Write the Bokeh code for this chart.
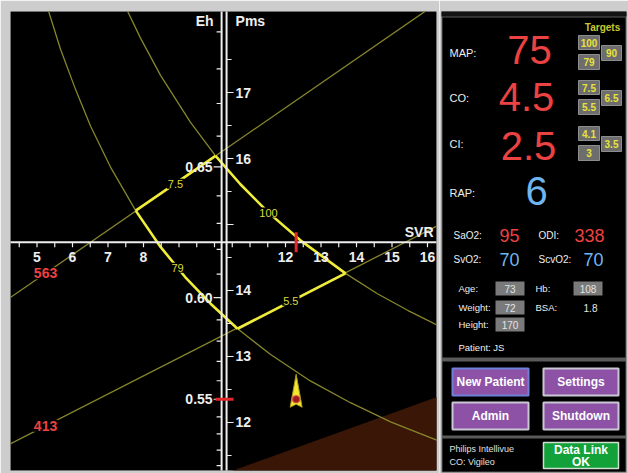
import numpy as np
from bokeh.plotting import figure
from bokeh.layouts import row
from bokeh.models import Range1d
from bokeh.embed import file_html
from bokeh.resources import INLINE
from bokeh.core.properties import value

FONT = value("Liberation Sans")

# ---------------- main diagram data (x = SVR, y = Pms) ----------------
svr_tick_labels = [5, 6, 7, 8, 12, 13, 14, 15, 16]
svr_minor_ticks = [4.5, 5.0, 5.5, 6.0, 6.5, 7.0, 7.5, 8.0, 8.5, 9.0, 9.5, 10.0,
                   10.5, 11.0, 11.5, 12.0, 12.5, 13.0, 13.5, 14.0, 14.5, 15.0, 15.5, 16.0]
pms_tick_labels = [12, 13, 14, 16, 17]
pms_minor_ticks = [11.5, 12.0, 12.5, 13.0, 13.5, 14.0, 14.5, 15.0, 15.5, 16.0, 16.5, 17.0, 17.5]
eh_tick_labels = [0.65, 0.60, 0.55]
eh_minor_ticks = [0.51, 0.52, 0.53, 0.54, 0.55, 0.56, 0.57, 0.58, 0.59, 0.60,
                  0.61, 0.62, 0.63, 0.64, 0.65, 0.66, 0.67, 0.68, 0.69]

svr_axis_pms = 14.73      # Pms level of the SVR axis
eh_axis_svr = 10.20       # SVR position of the Eh axis
pms_axis_svr = 10.34      # SVR position of the Pms axis

# CO isolines (straight)
co_hi_label, co_hi_svr, co_hi_pms = "7.5", [4.0, 16.5], [13.80, 18.44]
co_lo_label, co_lo_svr, co_lo_pms = "5.5", [4.0, 16.5], [11.61, 15.04]
# MAP isolines
map_lo_label = "79"
map_lo_svr = [5.24, 5.66, 6.09, 6.51, 7.07, 7.78, 8.48, 9.18, 9.89, 10.65, 11.58, 12.70, 13.83, 14.96, 16.37]
map_lo_pms = [18.38, 17.66, 17.04, 16.49, 15.87, 15.21, 14.66, 14.20, 13.80, 13.42, 13.03, 12.63, 12.30, 12.01, 11.71]
map_hi_label = "100"
map_hi_svr = [7.41, 7.92, 8.48, 9.32, 10.03, 10.73, 11.52, 12.42, 13.69, 14.59, 15.44, 16.37]
map_hi_pms = [18.39, 17.82, 17.26, 16.55, 16.04, 15.61, 15.18, 14.76, 14.26, 13.95, 13.70, 13.45]

# target window vertices: top, left, bottom, right
vertex_svr = [10.03, 7.78, 10.65, 13.69]
vertex_pms = [16.04, 15.21, 13.42, 14.26]
# where the target labels sit (SVR position along each side)
target_label_svr = [8.90, 8.96, 12.15, 11.52]

# oxygen delivery labels on the CO lines
do2_labels = ["563", "413"]
do2_svr = 5.24

# shaded zone boundary
shade_svr = [10.2, 16.5]
shade_pms = [11.21, 12.43]

# current state
svr_now = 12.3
eh_now = 0.55

# ---------------- side panel data ----------------
vital_labels = ["MAP:", "CO:", "CI:", "RAP:"]
vital_values = [75, 4.5, 2.5, 6]
targets_upper = [100, 7.5, 4.1]
targets_lower = [79, 5.5, 3]
targets_mid = [90, 6.5, 3.5]
sat_left_labels = ["SaO2:", "SvO2:"]
sat_left_values = [95, 70]
sat_right_labels = ["ODI:", "ScvO2:"]
sat_right_values = [338, 70]
patient_labels = ["Age:", "Weight:", "Height:"]
patient_values = [73, 72, 170]
lab_labels = ["Hb:", "BSA:"]
lab_values = [108, 1.8]
patient_id = "JS"
button_labels = ["New Patient", "Settings", "Admin", "Shutdown"]
device_lines = ["Philips Intellivue", "CO: Vigileo"]
link_lines = ["Data Link", "OK"]

# ---------------- styles ----------------
GRAY_BG = "#cdcdcd"
WHITE = "#eeeeee"
THIN = "#86862c"
THICK = "#efec3a"
RED = "#ec4242"
BLUE = "#6fb6ee"
YEL_TXT = "#dcdc3a"


def eh_to_pms(e):
    # Eh axis scale expressed in the Pms units of the plot
    return 0.03 + 5.545 / (1.0 - np.asarray(e, dtype=float))


X0, X1 = 4.2535, 16.2535
Y0, Y1 = 11.2727, 18.2273
FW, FH = 426, 459
PX_X = FW / (X1 - X0)
PX_Y = FH / (Y1 - Y0)


def ox(n):
    return n / PX_X


def oy(n):
    return n / PX_Y


def txt(fig, xs, ys, texts, color, size, align="left", baseline="middle", bold=False, **kw):
    fig.text(x=list(xs), y=list(ys), text=list(texts), text_color=color, text_font=FONT,
             text_font_size=f"{size}px", text_align=align, text_baseline=baseline,
             text_font_style="bold" if bold else "normal", **kw)


p = figure(frame_width=FW, frame_height=FH, x_range=Range1d(X0, X1), y_range=Range1d(Y0, Y1),
           x_axis_type=None, y_axis_type=None, toolbar_location=None, output_backend="svg",
           min_border_left=10, min_border_right=3, min_border_top=11, min_border_bottom=3,
           background_fill_color="black", border_fill_color=GRAY_BG, outline_line_color=None)

# shaded zone
p.varea(x=shade_svr, y1=[Y0 - 1, Y0 - 1], y2=shade_pms, fill_color="#3a1607")

# thin isolines
for xs, ys in [(co_hi_svr, co_hi_pms), (co_lo_svr, co_lo_pms),
               (map_lo_svr, map_lo_pms), (map_hi_svr, map_hi_pms)]:
    p.line(xs, ys, line_color=THIN, line_width=1.3)

# thick target window sides
top_v, left_v, bot_v, right_v = list(zip(vertex_svr, vertex_pms))
p.line([left_v[0], top_v[0]], [left_v[1], top_v[1]], line_color=THICK, line_width=2.6)
p.line([bot_v[0], right_v[0]], [bot_v[1], right_v[1]], line_color=THICK, line_width=2.6)
sel = [(x, y) for x, y in zip(map_lo_svr, map_lo_pms) if left_v[0] - 1e-6 <= x <= bot_v[0] + 1e-6]
p.line([a for a, b in sel], [b for a, b in sel], line_color=THICK, line_width=2.6)
sel = [(x, y) for x, y in zip(map_hi_svr, map_hi_pms) if top_v[0] - 1e-6 <= x <= right_v[0] + 1e-6]
p.line([a for a, b in sel], [b for a, b in sel], line_color=THICK, line_width=2.6)

# axes lines
p.segment(x0=[X0 - 1], x1=[X1 + 1], y0=[svr_axis_pms], y1=[svr_axis_pms], line_color=WHITE, line_width=2)
p.segment(x0=[eh_axis_svr, pms_axis_svr], x1=[eh_axis_svr, pms_axis_svr],
          y0=[Y0 - 1, Y0 - 1], y1=[Y1 + 1, Y1 + 1], line_color=WHITE, line_width=2)

# SVR ticks
p.segment(x0=svr_minor_ticks, x1=svr_minor_ticks, y0=[svr_axis_pms] * len(svr_minor_ticks),
          y1=[svr_axis_pms - oy(5)] * len(svr_minor_ticks), line_color=WHITE, line_width=1.2)
# Pms ticks
pl = [ox(7) if float(t).is_integer() else ox(5) for t in pms_minor_ticks]
p.segment(x0=[pms_axis_svr] * len(pms_minor_ticks), x1=[pms_axis_svr + d for d in pl],
          y0=pms_minor_ticks, y1=pms_minor_ticks, line_color=WHITE, line_width=1.2)
# Eh ticks
eh_y = eh_to_pms(eh_minor_ticks)
el = [ox(8) if round(t * 100) % 5 == 0 else ox(5) for t in eh_minor_ticks]
p.segment(x0=[eh_axis_svr - d for d in el], x1=[eh_axis_svr] * len(eh_minor_ticks),
          y0=eh_y, y1=eh_y, line_color=WHITE, line_width=1.2)

# tick labels
txt(p, svr_tick_labels, [svr_axis_pms - oy(15)] * len(svr_tick_labels),
    [str(v) for v in svr_tick_labels], WHITE, 14, align="center", bold=True)
txt(p, [pms_axis_svr + ox(9)] * len(pms_tick_labels), pms_tick_labels,
    [str(v) for v in pms_tick_labels], WHITE, 14, bold=True)
txt(p, [eh_axis_svr - ox(9)] * len(eh_tick_labels), eh_to_pms(eh_tick_labels),
    [f"{v:.2f}" for v in eh_tick_labels], WHITE, 14, align="right", bold=True)

# axis titles
txt(p, [eh_axis_svr - ox(8)], [Y1 - oy(9)], ["Eh"], WHITE, 14, align="right", bold=True)
txt(p, [pms_axis_svr + ox(9)], [Y1 - oy(9)], ["Pms"], WHITE, 14, bold=True)
txt(p, [X1 - ox(3)], [svr_axis_pms + oy(10)], ["SVR"], WHITE, 14, align="right", bold=True)

# target labels on the sides
side_lines = [(co_hi_svr, co_hi_pms), (map_lo_svr, map_lo_pms), (co_lo_svr, co_lo_pms), (map_hi_svr, map_hi_pms)]
side_text = [co_hi_label, map_lo_label, co_lo_label, map_hi_label]
lab_y = [float(np.interp(sx, xs, ys)) for sx, (xs, ys) in zip(target_label_svr, side_lines)]
txt(p, target_label_svr, lab_y, side_text, YEL_TXT, 11, align="center",
    background_fill_color="black", padding=1)

# DO2 labels on CO lines
do2_y = [float(np.interp(do2_svr, co_hi_svr, co_hi_pms)), float(np.interp(do2_svr, co_lo_svr, co_lo_pms))]
txt(p, [do2_svr, do2_svr], do2_y, do2_labels, RED, 14, align="center", bold=True,
    background_fill_color="black", padding=1)

# current value markers
cy = float(eh_to_pms(eh_now))
p.segment(x0=[svr_now], x1=[svr_now], y0=[svr_axis_pms - oy(10)], y1=[svr_axis_pms + oy(10)],
          line_color="#e02828", line_width=3)
p.segment(x0=[eh_axis_svr - ox(6)], x1=[eh_axis_svr + ox(12)], y0=[cy], y1=[cy],
          line_color="#e02828", line_width=3)
p.patch(x=[svr_now + ox(d) for d in (0, 6, 0, -6)], y=[cy + oy(d) for d in (25, -8, -5, -8)],
        fill_color="#f2e630", line_color="#a89a18", line_width=1)
p.scatter(x=[svr_now], y=[cy], size=7, fill_color="#9a1c1c", line_color="#e04848", line_width=1.2)

# ---------------- side panel (layout in screen pixels) ----------------
s = figure(frame_width=189, frame_height=462, x_range=Range1d(439, 628), y_range=Range1d(473, 11),
           x_axis_type=None, y_axis_type=None, toolbar_location=None, output_backend="svg",
           min_border_left=0, min_border_right=0, min_border_top=11, min_border_bottom=0,
           background_fill_color=GRAY_BG, border_fill_color=GRAY_BG, outline_line_color=None)

s.quad(left=[441], right=[626], top=[10], bottom=[472], fill_color="#5a5a5a", line_color=None)
s.quad(left=[441], right=[626], top=[10], bottom=[16], fill_color="#141414", line_color=None)
s.quad(left=[442, 442, 442], right=[625, 625, 625], top=[17, 361, 438], bottom=[357, 435, 471],
       fill_color="black", line_color=None)

# Targets header
txt(s, [602], [27], ["Targets"], "#c9c932", 10, align="center", bold=True)

row_y = [52, 97, 143, 192]
value_y = [49.5, 96.5, 145, 190.5]
value_x = [529, 526, 528, 536]
value_col = [RED, RED, RED, BLUE]
txt(s, [449] * 4, row_y, vital_labels, WHITE, 11)
for vx, vy, vv, vc in zip(value_x, value_y, vital_values, value_col):
    txt(s, [vx], [vy], [str(vv)], vc, 40, align="center")

# target boxes
for ry, up, lo, md in zip(row_y[:3], targets_upper, targets_lower, targets_mid):
    s.quad(left=[578, 578, 601], right=[599, 599, 621], top=[ry - 17, ry + 2, ry - 7],
           bottom=[ry - 3, ry + 17, ry + 8], fill_color="#6d6d6d", line_color="#8d8d8d", line_width=1)
    txt(s, [588.5, 588.5, 611], [ry - 10, ry + 9.5, ry + 0.5], [str(up), str(lo), str(md)],
        "#e6e23a", 10, align="center", bold=True)

# saturations
sat_y = [235, 259]
txt(s, [453, 453], sat_y, sat_left_labels, WHITE, 10)
txt(s, [538, 538], sat_y, sat_right_labels, WHITE, 10)
txt(s, [509], [sat_y[0]], [str(sat_left_values[0])], RED, 18, align="center")
txt(s, [509], [sat_y[1]], [str(sat_left_values[1])], BLUE, 18, align="center")
txt(s, [589], [sat_y[0]], [str(sat_right_values[0])], RED, 18, align="center")
txt(s, [593], [sat_y[1]], [str(sat_right_values[1])], BLUE, 18, align="center")

# patient data
pat_y = [288, 307, 324]
txt(s, [458] * 3, pat_y, patient_labels, WHITE, 9.5)
s.quad(left=[495] * 3, right=[524] * 3, top=[y - 7 for y in pat_y], bottom=[y + 7 for y in pat_y],
       fill_color="#7a7a7a", line_color=None)
txt(s, [509.5] * 3, pat_y, [str(v) for v in patient_values], "#e4e4e4", 10, align="center")
txt(s, [535, 535], pat_y[:2], lab_labels, WHITE, 9.5)
s.quad(left=[573], right=[602], top=[pat_y[0] - 7], bottom=[pat_y[0] + 7], fill_color="#7a7a7a", line_color=None)
txt(s, [587.5, 590], pat_y[:2], [str(v) for v in lab_values], "#e4e4e4", 10, align="center")
txt(s, [458], [347], [f"Patient: {patient_id}"], WHITE, 9.5)

# buttons
b_left = [452, 543, 452, 543]
b_right = [528, 618, 528, 618]
b_top = [368, 368, 402, 402]
b_bot = [395, 395, 429, 429]
s.quad(left=b_left, right=b_right, top=b_top, bottom=b_bot, fill_color="#8d52a6",
       line_color=["#6f80d8", "#c8c8d4", "#c8c8d4", "#c8c8d4"], line_width=2)
txt(s, [(a + b) / 2 for a, b in zip(b_left, b_right)], [(a + b) / 2 for a, b in zip(b_top, b_bot)],
    button_labels, "white", 12, align="center", bold=True)

# device info + data link
txt(s, [449, 449], [448, 461], device_lines, "#e0e0e0", 9)
s.quad(left=[543], right=[618], top=[442], bottom=[468], fill_color="#13a13a", line_color="#cfe0cf", line_width=1.5)
txt(s, [580.5, 580.5], [449, 461], link_lines, "white", 12, align="center", bold=True)

layout = row(p, s, spacing=0)
open("out.html", "w").write(file_html(layout, INLINE))
